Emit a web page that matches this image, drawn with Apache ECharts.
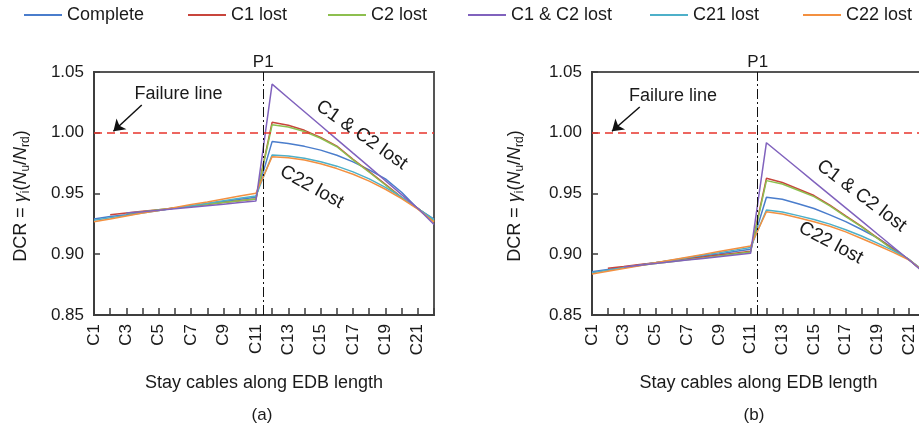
<!DOCTYPE html>
<html>
<head>
<meta charset="utf-8">
<script src="https://cdn.jsdelivr.net/npm/echarts@6/dist/echarts.min.js"></script>
<style>
  html, body { margin: 0; padding: 0; background: #ffffff; }
  #chart { width: 919px; height: 432px; }
</style>
</head>
<body>
<div id="chart"></div>
<script>
// Stay cables along the deck, in order
const cableLabels = ['C1', 'C2', 'C3', 'C4', 'C5', 'C6', 'C7', 'C8', 'C9', 'C10', 'C11',
                     'C12', 'C13', 'C14', 'C15', 'C16', 'C17', 'C18', 'C19', 'C20', 'C21', 'C22'];

// Loss scenarios
const scenarioNames = ['Complete', 'C1 lost', 'C2 lost', 'C1 & C2 lost', 'C21 lost', 'C22 lost'];

// Demand-to-capacity ratio per cable, case (a)
const completeA = [0.929, 0.931, 0.9325, 0.9345, 0.936, 0.938, 0.9398, 0.9415, 0.9435, 0.9452, 0.947,
                   0.9927, 0.9912, 0.9888, 0.9857, 0.9815, 0.976, 0.9695, 0.962, 0.951, 0.9375, 0.929];
const c1LostA   = [null, 0.9325, 0.934, 0.9353, 0.9366, 0.938, 0.9395, 0.941, 0.9425, 0.944, 0.9455,
                   1.0086, 1.0062, 1.002, 0.9962, 0.989, 0.9782, 0.968, 0.9575, 0.9468, 0.9378, 0.9275];
const c2LostA   = [null, null, 0.9335, 0.935, 0.9366, 0.9381, 0.9396, 0.9411, 0.9426, 0.944, 0.9455,
                   1.0066, 1.0048, 1.001, 0.9955, 0.9885, 0.9777, 0.9675, 0.957, 0.9464, 0.9378, 0.9272];
const c12LostA  = [null, null, 0.934, 0.935, 0.9362, 0.9374, 0.9387, 0.94, 0.9412, 0.9425, 0.9438,
                   1.040, 1.0286, 1.0173, 1.006, 0.9946, 0.9832, 0.9719, 0.9605, 0.9491, 0.9378, 0.9245];
const c21LostA  = [0.928, 0.930, 0.932, 0.934, 0.936, 0.938, 0.940, 0.942, 0.944, 0.946, 0.948,
                   0.9817, 0.9808, 0.979, 0.9762, 0.9725, 0.9678, 0.962, 0.955, 0.947, 0.9375, 0.9285];
const c22LostA  = [0.9268, 0.929, 0.9315, 0.934, 0.936, 0.9385, 0.941, 0.943, 0.9455, 0.948, 0.9502,
                   0.9803, 0.9795, 0.9775, 0.9745, 0.9705, 0.9658, 0.9602, 0.9535, 0.9458, 0.9372, 0.9265];

// Demand-to-capacity ratio per cable, case (b)
const completeB = [0.8856, 0.8875, 0.8893, 0.8912, 0.893, 0.8948, 0.8966, 0.8985, 0.9003, 0.9022, 0.9041,
                   0.9469, 0.9453, 0.9415, 0.9376, 0.9324, 0.9269, 0.9204, 0.9135, 0.9049, 0.8953, 0.885];
const c1LostB   = [null, 0.8884, 0.8899, 0.8915, 0.8931, 0.8946, 0.8962, 0.8978, 0.8993, 0.9009, 0.9025,
                   0.9625, 0.959, 0.9537, 0.9483, 0.9405, 0.9315, 0.923, 0.9135, 0.904, 0.8955, 0.8845];
const c2LostB   = [null, null, 0.8893, 0.8908, 0.8924, 0.8939, 0.8955, 0.897, 0.8986, 0.9002, 0.9018,
                   0.9606, 0.9578, 0.9527, 0.9474, 0.9398, 0.931, 0.9225, 0.913, 0.9035, 0.8955, 0.8845];
const c12LostB  = [null, null, 0.8895, 0.891, 0.8924, 0.8938, 0.8952, 0.8966, 0.898, 0.8994, 0.9008,
                   0.9918, 0.9811, 0.9704, 0.9596, 0.9489, 0.9382, 0.9275, 0.9167, 0.906, 0.8953, 0.884];
const c21LostB  = [0.8848, 0.8868, 0.8889, 0.891, 0.893, 0.8951, 0.8972, 0.8993, 0.9013, 0.9034, 0.9055,
                   0.9364, 0.9348, 0.9318, 0.9286, 0.9248, 0.9202, 0.915, 0.9092, 0.903, 0.8955, 0.8855];
const c22LostB  = [0.8837, 0.886, 0.8883, 0.8906, 0.893, 0.8953, 0.8976, 0.8999, 0.9022, 0.9045, 0.9068,
                   0.935, 0.9332, 0.930, 0.9268, 0.923, 0.9184, 0.913, 0.9074, 0.9015, 0.8953, 0.885];

// Value axis ticks
const yTickValues = [0.85, 0.90, 0.95, 1.00, 1.05];

// Reference levels
const failureLevel = 1.0;     // DCR = 1
const p1Position = 11.45;     // pylon P1, between C11 and C12

const panelA = [completeA, c1LostA, c2LostA, c12LostA, c21LostA, c22LostA];
const panelB = [completeB, c1LostB, c2LostB, c12LostB, c21LostB, c22LostB];

const colors = ['#4a7dcc', '#c8453c', '#8dbf4f', '#8062bd', '#4eb0c9', '#f39040'];
const FONT = '"Liberation Sans", Arial, Helvetica, sans-serif';
const INK = '#1a1a1a';
const AXIS = '#3d3d3d';

const chart = echarts.init(document.getElementById('chart'), null, { renderer: 'canvas' });

function toPoints(values) {
  return values.map((v, i) => [i + 1, v]);
}

function xAxisFor(gridIndex) {
  return {
    type: 'value', gridIndex: gridIndex,
    min: 1, max: cableLabels.length, interval: 1,
    axisLine: { show: true, onZero: false, lineStyle: { color: AXIS, width: 2 } },
    axisTick: { show: true, inside: true, length: 7, lineStyle: { color: AXIS, width: 1.5 } },
    splitLine: { show: false },
    axisLabel: {
      rotate: 90, margin: 9, fontSize: 17, color: INK, fontFamily: FONT,
      formatter: function (v) { return (v % 2 === 1) ? cableLabels[v - 1] : ''; }
    },
    name: 'Stay cables along EDB length',
    nameLocation: 'middle', nameGap: 59, nameMoveOverlap: false,
    nameTextStyle: { fontSize: 18, color: INK, fontFamily: FONT }
  };
}

function yAxisFor(gridIndex) {
  return {
    type: 'value', gridIndex: gridIndex,
    min: yTickValues[0], max: yTickValues[yTickValues.length - 1], interval: 0.05,
    axisLine: { show: true, onZero: false, lineStyle: { color: AXIS, width: 2 } },
    axisTick: { show: true, inside: true, length: 6, lineStyle: { color: AXIS, width: 1.5 } },
    splitLine: { show: false },
    axisLabel: {
      margin: 10, fontSize: 17, color: INK, fontFamily: FONT,
      formatter: function (v) { return v.toFixed(2); }
    }
  };
}

// Reference lines, arrow and in-plot notes for one panel
function annotations(arrowFrom, arrowTo, notes) {
  return {
    markLine: {
      silent: true, animation: false,
      symbol: ['none', 'none'],
      label: { show: false },
      data: [
        { yAxis: failureLevel, lineStyle: { color: '#e8342c', type: [8, 5], width: 1.5 } },
        {
          xAxis: p1Position,
          lineStyle: { color: '#111111', type: [10, 3, 2, 3], width: 1 },
          label: { show: true, position: 'end', distance: 1, formatter: 'P1',
                   fontSize: 17, color: INK, fontFamily: FONT }
        },
        [
          { coord: arrowFrom, symbol: 'none', lineStyle: { color: '#111111', width: 1.5, type: 'solid' } },
          { coord: arrowTo, symbol: 'arrow', symbolSize: 11, lineStyle: { color: '#111111', width: 1.5, type: 'solid' },
            itemStyle: { color: '#111111' } }
        ]
      ]
    },
    markPoint: {
      silent: true, animation: false,
      symbol: 'circle', symbolSize: 1,
      itemStyle: { color: 'rgba(0,0,0,0)' },
      data: notes.map(n => ({
        coord: n.at, name: n.text,
        label: { show: true, position: 'inside', formatter: n.text, rotate: n.rotate,
                 fontSize: n.size, color: INK, fontFamily: FONT }
      }))
    }
  };
}

const series = [];
[panelA, panelB].forEach(function (panel, p) {
  panel.forEach(function (values, k) {
    series.push({
      name: scenarioNames[k], type: 'line',
      xAxisIndex: p, yAxisIndex: p,
      data: toPoints(values),
      showSymbol: false, connectNulls: false, animation: false,
      lineStyle: { color: colors[k], width: 1.5 },
      itemStyle: { color: colors[k] },
      z: k === 3 ? 3 : 2
    });
  });
});

// Notes on the first series of each panel
Object.assign(series[0], annotations([3.95, 1.0228], [2.2, 1.0012], [
  { text: 'Failure line', at: [6.22, 1.0322], rotate: 0, size: 18 },
  { text: 'C1 & C2 lost', at: [17.53, 0.9981], rotate: -35, size: 19 },
  { text: 'C22 lost', at: [14.45, 0.9553], rotate: -29, size: 19 }
]));
Object.assign(series[6], annotations([4.01, 1.0212], [2.26, 1.0012], [
  { text: 'Failure line', at: [6.11, 1.0304], rotate: 0, size: 18 },
  { text: 'C1 & C2 lost', at: [18.0, 0.9481], rotate: -37, size: 19 },
  { text: 'C22 lost', at: [16.06, 0.9093], rotate: -28, size: 19 }
]));

const legendLeft = [24, 188, 328, 468, 650, 803];

function yNameText(cx, cy) {
  return {
    type: 'text', x: cx, y: cy, rotation: Math.PI / 2, silent: true,
    style: {
      text: '{n|DCR = }{i|γ}{s|i}{n|(}{i|N}{s|u}{n|/}{i|N}{s|rd}{n|)}',
      align: 'center', verticalAlign: 'middle',
      fill: INK, fontFamily: FONT, fontSize: 18,
      rich: {
        n: { fontSize: 18, lineHeight: 22, fontFamily: FONT, fill: INK },
        i: { fontSize: 18, lineHeight: 22, fontStyle: 'italic', fontFamily: FONT, fill: INK },
        s: { fontSize: 12, lineHeight: 10, verticalAlign: 'bottom', fontFamily: FONT, fill: INK }
      }
    }
  };
}

const option = {
  backgroundColor: '#ffffff',
  animation: false,
  textStyle: { fontFamily: FONT },
  grid: [
    { left: 94, top: 72, width: 340, height: 243, show: true, borderColor: '#555555', borderWidth: 2,
      backgroundColor: 'rgba(0,0,0,0)', outerBoundsMode: 'none', containLabel: false },
    { left: 592, top: 72, width: 333, height: 243, show: true, borderColor: '#555555', borderWidth: 2,
      backgroundColor: 'rgba(0,0,0,0)', outerBoundsMode: 'none', containLabel: false }
  ],
  xAxis: [xAxisFor(0), xAxisFor(1)],
  yAxis: [yAxisFor(0), yAxisFor(1)],
  legend: scenarioNames.map((name, i) => ({
    data: [name], left: legendLeft[i], top: 6, orient: 'horizontal',
    icon: 'rect', itemWidth: 38, itemHeight: 2, padding: 0,
    selectedMode: false,
    textStyle: { fontSize: 18, color: INK, fontFamily: FONT }
  })),
  title: [
    { text: '(a)', left: 262, top: 407, textAlign: 'center', padding: 0,
      textStyle: { fontSize: 17, fontWeight: 'normal', color: INK, fontFamily: FONT } },
    { text: '(b)', left: 754, top: 407, textAlign: 'center', padding: 0,
      textStyle: { fontSize: 17, fontWeight: 'normal', color: INK, fontFamily: FONT } }
  ],
  graphic: [yNameText(21, 196), yNameText(515, 196)],
  series: series
};

chart.setOption(option);
</script>
</body>
</html>
